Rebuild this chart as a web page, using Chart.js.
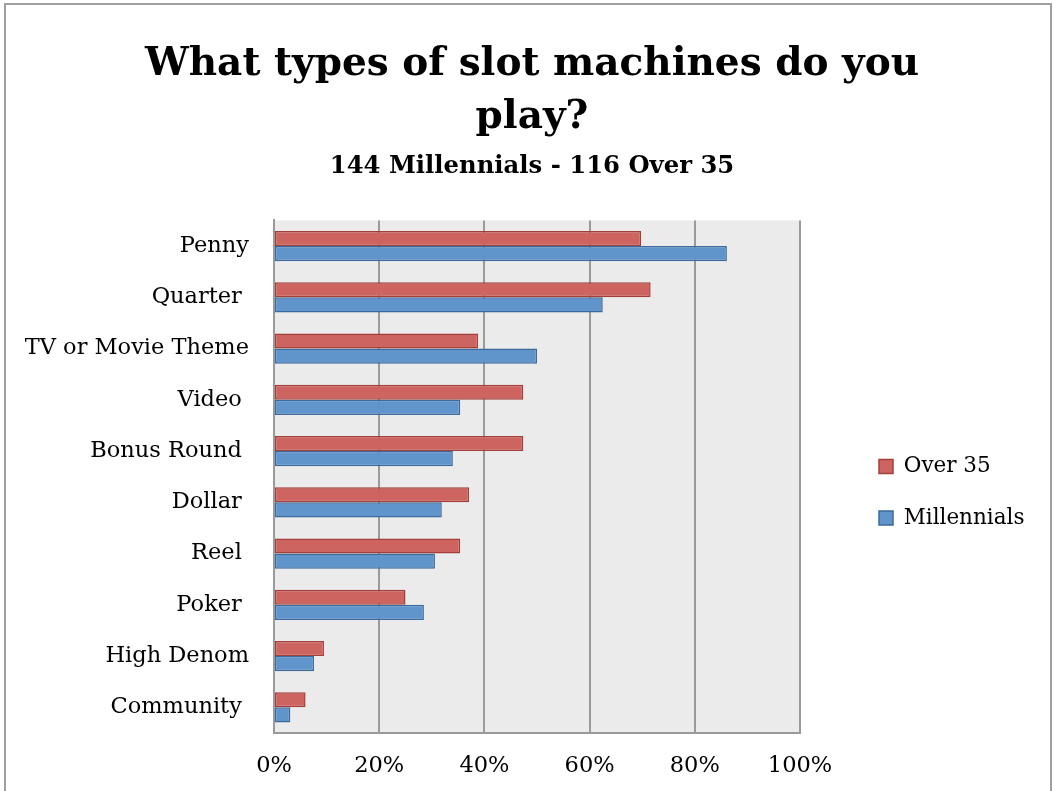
<!DOCTYPE html>
<html lang="en">
<head>
<meta charset="UTF-8">
<title>Slot machine types</title>
<script src="https://cdn.jsdelivr.net/npm/chart.js@4"></script>
<style>
  html, body { margin: 0; padding: 0; background: #fff; overflow: hidden; }
  #frame { position: absolute; left: 4px; top: 3px; width: 1044px; height: 820px; border: 2px solid #a0a0a0; }
  #wrap { position: absolute; left: 0; top: 0; width: 1053px; height: 791px; }
</style>
</head>
<body>
<div id="frame"></div>
<div id="wrap"><canvas id="slotChart" width="1053" height="791"></canvas></div>
<script>
// categories (trailing spaces kept as in the source labels)
var categories = ['Penny', 'Quarter ', 'TV or Movie Theme', 'Video ', 'Bonus Round ', 'Dollar ', 'Reel ', 'Poker ', 'High Denom', 'Community '];
// percentages
var over35 = [69.8, 71.6, 38.8, 47.4, 47.4, 37.1, 35.4, 25.0, 9.5, 6.0];
var millennials = [86.1, 62.5, 50.0, 35.4, 34.0, 31.9, 30.6, 28.5, 7.6, 3.1];
var xTickLabels = ['0%', '20%', '40%', '60%', '80%', '100%'];

var serif = "'DejaVu Serif', serif";
var padL = 20, padR = 73;

// grey plot background
var plotBg = {
    id: 'plotBg',
    beforeDraw: function (chart) {
        var a = chart.chartArea, c = chart.ctx;
        c.save();
        c.fillStyle = '#ebebeb';
        c.fillRect(a.left, a.top, a.right - a.left, a.bottom - a.top);
        c.restore();
    }
};

// nudge legend away from the plot and re-centre the titles like the original
var nudge = {
    id: 'nudge',
    afterLayout: function (chart) {
        chart.boxes.forEach(function (b) {
            if (b === chart.legend) {
                b.left += 49; b.right += 49;
            } else if (b.options && b.options.text !== undefined) {
                b.left += 32; b.right += 32;
            }
        });
    }
};

var ctx = document.getElementById('slotChart').getContext('2d');
var chart = new Chart(ctx, {
    type: 'bar',
    data: {
        labels: categories,
        datasets: [{
            label: 'Over 35',
            data: over35,
            backgroundColor: '#cd645f',
            borderColor: '#a33f3b',
            borderWidth: 1.5,
            borderSkipped: false
        }, {
            label: 'Millennials',
            data: millennials,
            backgroundColor: '#5f95cb',
            borderColor: '#3c6a9c',
            borderWidth: 1.5,
            borderSkipped: false
        }]
    },
    options: {
        indexAxis: 'y',
        responsive: false,
        animation: false,
        devicePixelRatio: 1,
        categoryPercentage: 0.59,
        barPercentage: 1.0,
        layout: { padding: { left: padL, right: padR, top: 0, bottom: 0 } },
        scales: {
            x: {
                min: 0,
                max: 100,
                ticks: {
                    stepSize: 20,
                    padding: 20,
                    color: '#000',
                    font: { family: serif, size: 22.5 },
                    callback: function (v, i) { return xTickLabels[i]; }
                },
                grid: { color: '#9a9a9a', lineWidth: 2, drawTicks: false },
                border: { color: '#9a9a9a', width: 2 },
                afterFit: function (s) { s.height = 58; }
            },
            y: {
                ticks: {
                    padding: 25,
                    color: '#000',
                    font: { family: serif, size: 22.5 }
                },
                grid: { display: false, drawTicks: false },
                border: { color: '#9a9a9a', width: 2 },
                afterFit: function (s) { s.width = 274 - padL; }
            }
        },
        plugins: {
            title: {
                display: true,
                text: ['What types of slot machines do you', 'play?'],
                color: '#000',
                font: { family: serif, size: 39, weight: 'bold', lineHeight: 1.36 },
                padding: { top: 38, bottom: 0 }
            },
            subtitle: {
                display: true,
                text: '144 Millennials - 116 Over 35',
                color: '#000',
                font: { family: serif, size: 24.3, weight: 'bold', lineHeight: 1.25 },
                padding: { top: 7, bottom: 39 }
            },
            legend: {
                position: 'right',
                fullSize: false,
                maxWidth: 180,
                title: { display: true, text: '', font: { size: 10, lineHeight: 1.2 }, padding: { top: 19, bottom: 0 } },
                labels: {
                    boxWidth: 14,
                    boxHeight: 14,
                    padding: 30,
                    color: '#000',
                    font: { family: serif, size: 21.5 }
                }
            },
            tooltip: { enabled: false }
        }
    },
    plugins: [plotBg, nudge]
});
</script>
</body>
</html>
